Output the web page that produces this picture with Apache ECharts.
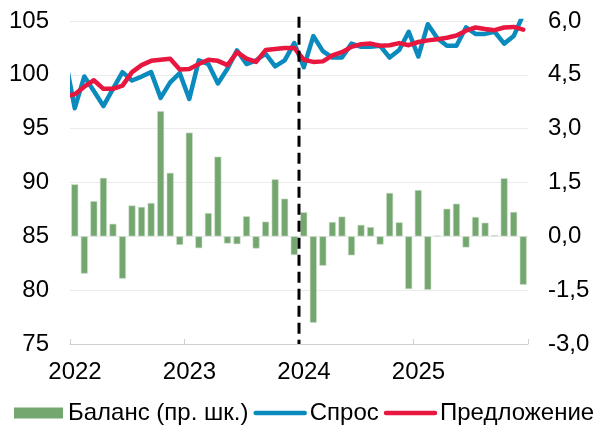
<!DOCTYPE html>
<html>
<head>
<meta charset="utf-8">
<script src="https://cdn.jsdelivr.net/npm/echarts@6/dist/echarts.min.js"></script>
<style>
html,body{margin:0;padding:0;background:#fff;}
#chart{width:597px;height:429px;}
</style>
</head>
<body>
<div id="chart"></div>
<script>
// Monthly categories Jan 2022 .. Dec 2025
const months = [
 '01.22','02.22','03.22','04.22','05.22','06.22','07.22','08.22','09.22','10.22','11.22','12.22',
 '01.23','02.23','03.23','04.23','05.23','06.23','07.23','08.23','09.23','10.23','11.23','12.23',
 '01.24','02.24','03.24','04.24','05.24','06.24','07.24','08.24','09.24','10.24','11.24','12.24',
 '01.25','02.25','03.25','04.25','05.25','06.25','07.25','08.25','09.25','10.25','11.25','12.25'
];
const yearLabels = ['2022','2023','2024','2025'];

// Balance (right axis)
const balance = [
 1.45,-1.04,0.98,1.63,0.35,-1.18,0.86,0.82,0.93,3.49,1.77,-0.24,
 2.89,-0.33,0.65,2.22,-0.20,-0.22,0.56,-0.34,0.41,1.59,1.05,-0.52,
 0.67,-2.41,-0.82,0.40,0.55,-0.53,0.32,0.26,-0.23,1.21,0.39,-1.47,
 1.29,-1.49,0.02,0.77,0.91,-0.31,0.54,0.38,0.03,1.62,0.68,-1.35
];
// Demand (left axis), previous month (Dec 2021) partly visible at the left edge
const demandPrev = 101.5;
const demand = [
 96.9,99.85,98.5,97.1,98.7,100.25,99.47,99.84,100.25,97.86,99.3,100.16,
 97.76,101.34,101.0,99.2,100.56,102.27,101.0,101.34,101.96,100.78,101.34,102.95,
 100.7,103.6,102.2,101.6,101.6,102.9,102.6,102.6,102.7,101.6,102.3,104.0,
 101.7,104.7,103.4,102.7,102.7,104.4,103.8,103.8,104.0,102.9,103.6,105.6
];
// Supply (left axis)
const supplyPrev = 98.0;
const supply = [
 98.2,98.9,99.5,98.7,98.7,99.0,100.25,100.9,101.3,101.4,101.5,100.5,
 100.55,101.0,101.4,101.3,100.9,102.1,101.5,101.2,102.3,102.4,102.5,102.5,
 101.4,101.2,101.25,101.8,102.1,102.6,102.85,102.9,102.7,102.75,102.95,102.75,
 103.05,103.2,103.3,103.45,103.65,104.1,104.4,104.25,104.15,104.4,104.45,104.2
];
const markerMonth = '01.24';

const FONT = "'Liberation Sans', Arial, sans-serif";
const pos = i => i + 0.5;
const barData = balance.map((v, i) => [pos(i), v]);
const demandData = [[-0.5, demandPrev]].concat(demand.map((v, i) => [pos(i), v]));
const supplyData = [[-0.5, supplyPrev]].concat(supply.map((v, i) => [pos(i), v]));
const markerX = months.indexOf(markerMonth);
const Y_MIN = 75, Y_MAX = 105;

const chart = echarts.init(document.getElementById('chart'), null, {renderer: 'canvas'});
chart.setOption({
  animation: false,
  textStyle: {fontFamily: FONT},
  grid: {left: 70, right: 69, top: 21, bottom: 85},
  legend: {
    left: 14, top: 401, width: 640, padding: 0, itemGap: 5, itemWidth: 49, itemHeight: 11,
    textStyle: {fontFamily: FONT, fontSize: 24, color: '#000'},
    data: [
      {name: 'Баланс (пр. шк.)', icon: 'rect', itemStyle: {borderWidth: 0}},
      {name: 'Спрос', itemStyle: {opacity: 0}, lineStyle: {width: 4.5, cap: 'round'}},
      {name: 'Предложение', itemStyle: {opacity: 0}, lineStyle: {width: 4.5, cap: 'round'}}
    ]
  },
  xAxis: {
    type: 'value', min: 0, max: months.length, interval: 12,
    axisLine: {show: true, onZero: false, lineStyle: {color: '#d0d0d0', width: 1}},
    axisTick: {show: true, inside: true, length: 5, lineStyle: {color: '#d0d0d0'}},
    splitLine: {show: false},
    axisLabel: {
      fontFamily: FONT, fontSize: 24, color: '#000', margin: 16,
      padding: [0, 0, 0, 10],
      showMaxLabel: true,
      formatter: v => { const k = Math.round(v / 12); return k < yearLabels.length ? yearLabels[k] : ''; }
    }
  },
  yAxis: [
    {
      type: 'value', min: Y_MIN, max: Y_MAX, interval: 5,
      axisLine: {show: false}, axisTick: {show: false},
      splitLine: {show: true, lineStyle: {color: '#ebebeb', width: 1}},
      axisLabel: {fontFamily: FONT, fontSize: 24, color: '#000', margin: 21}
    },
    {
      type: 'value', min: -3, max: 6, interval: 1.5,
      axisLine: {show: false}, axisTick: {show: false},
      splitLine: {show: false},
      axisLabel: {fontFamily: FONT, fontSize: 24, color: '#000', margin: 20,
        formatter: v => v.toFixed(1).replace('.', ',')}
    }
  ],
  series: [
    {
      name: 'Баланс (пр. шк.)', type: 'bar', yAxisIndex: 1, barWidth: 7,
      itemStyle: {color: '#74a66f', borderColor: '#cfe0cc', borderWidth: 0.6},
      data: barData
    },
    {
      name: 'Спрос', type: 'line', yAxisIndex: 0, symbol: 'none', clip: true,
      lineStyle: {color: '#0b8bbd', width: 4.5, cap: 'round', join: 'round'},
      itemStyle: {color: '#0b8bbd'},
      data: demandData
    },
    {
      name: 'Предложение', type: 'line', yAxisIndex: 0, symbol: 'none', clip: true,
      lineStyle: {color: '#e8173f', width: 4.5, cap: 'round', join: 'round'},
      itemStyle: {color: '#e8173f'},
      data: supplyData
    },
    {
      name: 'marker', type: 'line', yAxisIndex: 0, symbol: 'none', clip: false,
      silent: true, z: 6,
      lineStyle: {color: '#000', width: 3, type: [11, 6], cap: 'butt'},
      data: [[markerX, Y_MAX + 0.4], [markerX, Y_MIN]]
    }
  ]
});

// hide the part of the lines that falls left of the plot area (exact clip at the axis start)
const pTop = chart.convertToPixel({xAxisIndex: 0, yAxisIndex: 0}, [0, Y_MAX]);
const pBot = chart.convertToPixel({xAxisIndex: 0, yAxisIndex: 0}, [0, Y_MIN]);
chart.setOption({
  graphic: [{
    type: 'rect', z: 100, silent: true,
    shape: {x: pTop[0] - 16, y: pTop[1] - 12, width: 16, height: pBot[1] - pTop[1] + 8},
    style: {fill: '#fff'}
  }]
});
</script>
</body>
</html>
